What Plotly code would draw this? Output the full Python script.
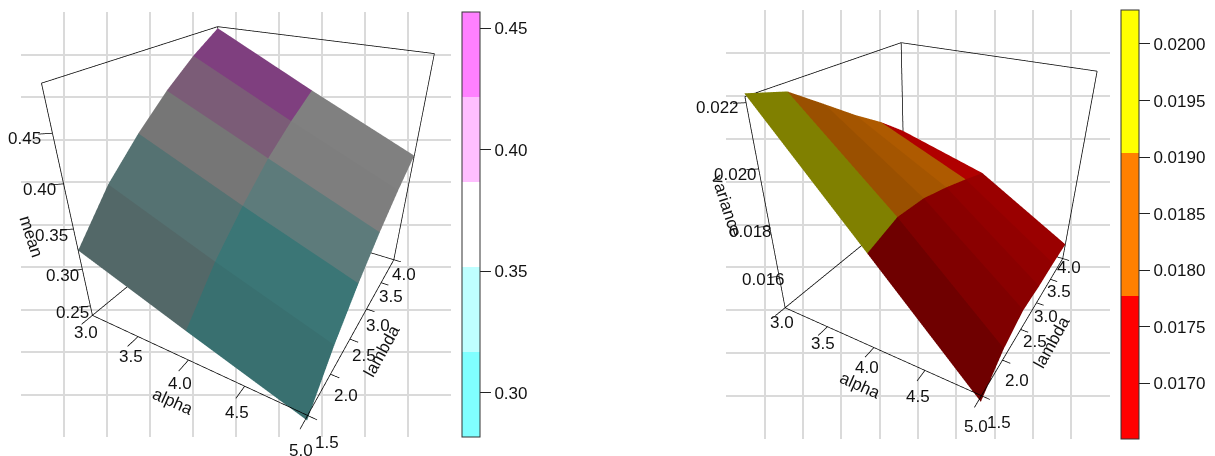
import plotly.graph_objects as go

alpha = [3.0, 4.0, 5.0]
lam = [1.5, 2.0, 2.5, 3.0, 3.5, 4.0]

# rows: alpha, columns: lambda
mean_values = [
    [0.3242, 0.3750, 0.4121, 0.4441, 0.4707, 0.4923],
    [0.2759, 0.3236, 0.3600, 0.3915, 0.4155, 0.4358],
    [0.2292, 0.2757, 0.3110, 0.3396, 0.3628, 0.3819],
]
variance_values = [
    [0.02226, 0.02190, 0.02106, 0.02021, 0.01944, 0.01855],
    [0.01831, 0.01869, 0.01859, 0.01828, 0.01791, 0.01751],
    [0.01434, 0.01512, 0.01548, 0.01538, 0.01537, 0.01531],
]
# cell colours: rows alpha interval, columns lambda interval
mean_cells = [
    ["#536868", "#557272", "#767676", "#7B5C77", "#7F3F7F"],
    ["#397070", "#3B7676", "#5D7B7B", "#7E7E7E", "#808080"],
]
variance_cells = [
    ["#808000", "#9A5000", "#A45500", "#AE5A00", "#B00000"],
    ["#6F0000", "#800000", "#8A0000", "#920000", "#9A0000"],
]

mean_ticks = [0.25, 0.30, 0.35, 0.40, 0.45]
variance_ticks = [0.016, 0.018, 0.020, 0.022]
alpha_ticks = [3.0, 3.5, 4.0, 4.5, 5.0]
lambda_ticks = [1.5, 2.0, 2.5, 3.0, 3.5, 4.0]

mean_key_ticks = [0.30, 0.35, 0.40, 0.45]
variance_key_ticks = [0.0170, 0.0175, 0.0180, 0.0185, 0.0190, 0.0195, 0.0200]
mean_key_colors = ["#80FFFF", "#BFFFFF", "#FFFFFF", "#FFBFFF", "#FF80FF"]
variance_key_colors = ["#FF0000", "#FF8000", "#FFFF00"]
mean_key_range = [0.2816, 0.4566]
variance_key_range = [0.01651, 0.0203]

W, H = 1215, 456
FONT = dict(family="Liberation Sans", size=17, color="#111111")
LINE = dict(color="#000000", width=1.5)
PAD_A, PAD_L = 0.2, 0.3


def stepped(colors):
    n = len(colors)
    out = []
    for i, c in enumerate(colors):
        out += [[i / n, c], [(i + 1) / n, c]]
    return out


def mesh(zv, cells, scene):
    x, y, z, i, j, k, fc = [], [], [], [], [], [], []
    na, nl = len(alpha), len(lam)
    for a in range(na):
        for l in range(nl):
            x.append(alpha[a]); y.append(lam[l]); z.append(zv[a][l])
    for a in range(na - 1):
        for l in range(nl - 1):
            p00 = a * nl + l
            p01 = p00 + 1
            p10 = p00 + nl
            p11 = p10 + 1
            i += [p00, p01]; j += [p10, p10]; k += [p01, p11]
            fc += [cells[a][l]] * 2
    return go.Mesh3d(x=x, y=y, z=z, i=i, j=j, k=k, facecolor=fc, flatshading=True,
                     lighting=dict(ambient=1, diffuse=0, specular=0, fresnel=0, roughness=1),
                     hoverinfo="skip", scene=scene, showscale=False)


def seg_trace(segs, scene):
    x, y, z = [], [], []
    for s in segs:
        for p in s:
            x.append(p[0]); y.append(p[1]); z.append(p[2])
        x.append(None); y.append(None); z.append(None)
    return go.Scatter3d(x=x, y=y, z=z, mode="lines", line=LINE, hoverinfo="skip",
                        showlegend=False, scene=scene)


def box_segs(zlo, zhi, zticks):
    a0, a1, l0, l1 = alpha[0], alpha[-1], lam[0], lam[-1]
    A, B, C, D = (a0, l0, zlo), (a1, l0, zlo), (a1, l1, zlo), (a0, l1, zlo)
    At, Ct, Dt = (a0, l0, zhi), (a1, l1, zhi), (a0, l1, zhi)
    segs = [(A, B), (B, C), (C, D), (D, A), (A, At), (C, Ct), (D, Dt), (At, Dt), (Dt, Ct)]
    for t in alpha_ticks:
        segs.append(((t, l0, zlo), (t, l0 - 0.15, zlo)))
    for t in lambda_ticks:
        segs.append(((a1, t, zlo), (a1 + 0.07, t, zlo)))
    for t in zticks:
        segs.append(((a0, l0, t), (a0 - 0.07, l0 - 0.07, t)))
    return segs


def ann(x, y, z, text, dx, dy, angle=0):
    return dict(x=x, y=y, z=z, text=text, showarrow=False, xanchor="center", yanchor="middle",
                xshift=dx, yshift=-dy, textangle=angle, font=FONT)


def annotations(zlo, zticks, zfmt, zname, shifts):
    a0, a1, l0 = alpha[0], alpha[-1], lam[0]
    out = []
    for t, s in zip(alpha_ticks, shifts["alpha"]):
        out.append(ann(t, l0, zlo, f"{t:.1f}", *s))
    for t, s in zip(lambda_ticks, shifts["lambda"]):
        out.append(ann(a1, t, zlo, f"{t:.1f}", *s))
    for t, s in zip(zticks, shifts["z"]):
        out.append(ann(a0, l0, t, format(t, zfmt), *s))
    out.append(ann(4.0, l0, zlo, "alpha", *shifts["alpha_t"], angle=24))
    out.append(ann(a1, 2.75, zlo, "lambda", *shifts["lambda_t"], angle=-61))
    out.append(ann(a0, l0, zticks[shifts["z_i"]], zname, *shifts["z_t"], angle=72))
    return out


def scene(dom_px, y_px, camera, asp, zr, annos):
    a_span = alpha[-1] - alpha[0]
    l_span = lam[-1] - lam[0]
    pz = 0.05 * (zr[1] - zr[0])
    noax = dict(visible=False, showgrid=False, zeroline=False, showspikes=False)
    return dict(
        domain=dict(x=[dom_px[0] / W, dom_px[1] / W], y=[1 - y_px[1] / H, 1 - y_px[0] / H]),
        bgcolor="rgba(0,0,0,0)",
        aspectmode="manual",
        aspectratio=dict(x=(a_span + 2 * PAD_A) / a_span,
                         y=asp[0] * (l_span + 2 * PAD_L) / l_span,
                         z=asp[1] * 1.1),
        camera=dict(projection=dict(type="perspective"), **camera),
        xaxis=dict(range=[alpha[0] - PAD_A, alpha[-1] + PAD_A], **noax),
        yaxis=dict(range=[lam[0] - PAD_L, lam[-1] + PAD_L], **noax),
        zaxis=dict(range=[zr[0] - pz, zr[1] + pz], **noax),
        annotations=annos,
    )


def key_trace(rng, colors, ticks, fmt, left, y0, y1, xa, ya):
    return go.Scatter(
        x=[-5, -5], y=[-5, -5], xaxis=xa, yaxis=ya, mode="markers", hoverinfo="skip", showlegend=False,
        marker=dict(color=rng, cmin=rng[0], cmax=rng[1], colorscale=stepped(colors), showscale=True, size=1,
                    colorbar=dict(x=left / W, xanchor="left", xpad=0, ypad=0, thickness=17.5, thicknessmode="pixels",
                                  len=y1 - y0, lenmode="pixels", y=1 - y1 / H, yanchor="bottom",
                                  outlinewidth=1, outlinecolor="#333333", ticks="outside", ticklen=11, tickwidth=1,
                                  tickcolor="#222222", tickvals=ticks, ticktext=[format(t, fmt) for t in ticks],
                                  tickfont=FONT)))


left_z = [0.23621, 0.49412]
right_z = [0.01461, 0.02217]
left_shifts = dict(
    alpha=[(-7, 17), (-7, 20), (-9, 23), (-8, 26), (-7, 35)],
    **{"lambda": [(19, 27), (15, 21), (14, 16), (11, 17), (10, 14), (10, 15)]},
    z=[(-18, 7), (-20, 6), (-22, 7), (-24, 6), (-28, 5)],
    alpha_t=(-16, 41), lambda_t=(23, 28), z_i=2, z_t=(-43, 8))
right_shifts = dict(
    alpha=[(-3, 15), (-4, 17), (-7, 20), (-7, 26), (-5, 31)],
    **{"lambda": [(18, 27), (15, 20), (14, 12), (9, 14), (9, 12), (6, 9)]},
    z=[(-16, 3), (-19, 5), (-23, 6), (-29, 5)],
    alpha_t=(-14, 38), lambda_t=(23, 27), z_i=1, z_t=(-43, -21))

cam_l = dict(eye=dict(x=0.8685, y=-1.5796, z=0.9776), center=dict(x=0.3084, y=-0.5897, z=0.2523),
             up=dict(x=0.761, y=-1.3451, z=1))
cam_r = dict(eye=dict(x=0.9535, y=-1.7333, z=1.0717), center=dict(x=0.0586, y=-0.0879, z=-0.1041),
             up=dict(x=0.7547, y=-1.3879, z=1))

fig = go.Figure()
fig.add_trace(mesh(mean_values, mean_cells, "scene"))
fig.add_trace(seg_trace(box_segs(*left_z, mean_ticks), "scene"))
fig.add_trace(mesh(variance_values, variance_cells, "scene2"))
fig.add_trace(seg_trace(box_segs(*right_z, variance_ticks), "scene2"))
fig.add_trace(key_trace(mean_key_range, mean_key_colors, mean_key_ticks, ".2f", 461.8, 12.3, 437.3, "x", "y"))
fig.add_trace(key_trace(variance_key_range, variance_key_colors, variance_key_ticks, ".4f", 1120.6, 10, 439, "x2", "y2"))

grid = dict(range=[0, 10], tickvals=list(range(1, 10)), showticklabels=False, ticks="", showgrid=True,
            gridcolor="#dadada", gridwidth=1.5, zeroline=False, showline=False, fixedrange=True)

fig.update_layout(
    width=W, height=H, autosize=False, margin=dict(l=0, r=0, t=0, b=0, pad=0),
    paper_bgcolor="white", plot_bgcolor="white", showlegend=False,
    xaxis=dict(domain=[21.4 / W, 451 / W], anchor="y", **grid),
    yaxis=dict(domain=[1 - 437 / H, 1 - 12 / H], anchor="x", **grid),
    xaxis2=dict(domain=[726.4 / W, 1109.5 / W], anchor="y2", **grid),
    yaxis2=dict(domain=[1 - 439 / H, 1 - 10 / H], anchor="x2", **grid),
    scene=scene((30.13, 470.13), (18, 434), cam_l, (1.0389, 0.9929), left_z,
                annotations(left_z[0], mean_ticks, ".2f", "mean", left_shifts)),
    scene2=scene((717.0, 1157.0), (18, 434), cam_r, (1.0365, 0.9942), right_z,
                 annotations(right_z[0], variance_ticks, ".3f", "variance", right_shifts)),
)
fig.write_html("out.html", config=dict(displayModeBar=False),
               post_script="document.body.style.margin='0';")
